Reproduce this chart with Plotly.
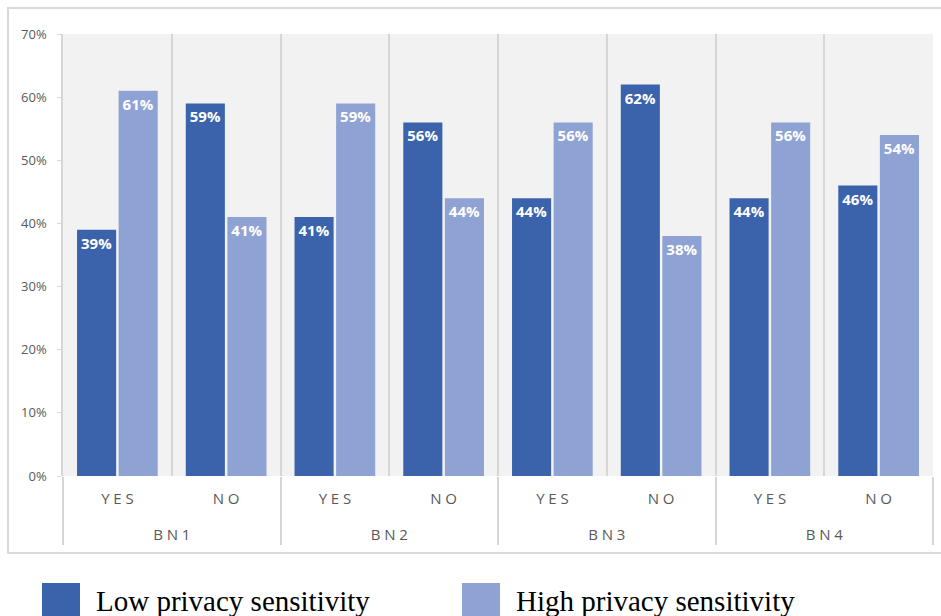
import plotly.graph_objects as go

# Survey shares by condition and answer
groups = ["BN1", "BN1", "BN2", "BN2", "BN3", "BN3", "BN4", "BN4"]
answers = ["YES", "NO", "YES", "NO", "YES", "NO", "YES", "NO"]
low_sensitivity = [39, 59, 41, 56, 44, 62, 44, 46]
high_sensitivity = [61, 41, 59, 44, 56, 38, 56, 54]
y_ticks = [0, 10, 20, 30, 40, 50, 60, 70]

series_names = ["Low privacy sensitivity", "High privacy sensitivity"]
colors = ["#3b63ac", "#8fa2d4"]


def spaced(s):
    # widen letter spacing of axis category labels
    return "\u2005".join(s)


# the trailing (blank, tall) line opens up the gap between the two label rows
x_cats = [[spaced(g) for g in groups],
          [spaced(a) + "<br><span style='font-size:34px'> </span>" for a in answers]]

fig = go.Figure()
for name, vals, col in zip(series_names, [low_sensitivity, high_sensitivity], colors):
    fig.add_trace(go.Bar(
        x=x_cats, y=vals, name=name,
        marker=dict(color=col, line=dict(color=col, width=0)),
        text=vals, texttemplate="<b>%{y:.0f}%</b>",
        textposition="inside", insidetextanchor="end",
        textfont=dict(color="white", size=15, family="Open Sans"),
        textangle=0, showlegend=False,
    ))

fig.update_layout(
    width=941, height=616,
    margin=dict(l=63, r=8, t=34, b=140),
    paper_bgcolor="white", plot_bgcolor="#f2f2f2",
    barmode="group", bargap=0.235, bargroupgap=0.06,
    font=dict(family="Open Sans", color="#595959"),
)
fig.update_xaxes(
    type="multicategory", tickson="boundaries",
    showgrid=True, gridcolor="#d6d6d6", gridwidth=1.5,
    showdividers=True, dividercolor="#d6d6d6", dividerwidth=1.5,
    showline=False, ticks="", ticklabelstandoff=12,
    tickfont=dict(size=15, color="#595959", family="Open Sans"),
)
fig.update_yaxes(
    range=[0, 70], tickvals=y_ticks, ticktext=[f"{v}%" for v in y_ticks],
    showgrid=False, zeroline=False,
    showline=True, linecolor="#d6d6d6", linewidth=1.5,
    ticks="outside", ticklen=4, tickcolor="#d6d6d6",
    ticklabelstandoff=8,
    tickfont=dict(size=13, color="#595959", family="Open Sans"),
)

# outer chart frame
fig.add_shape(type="rect", xref="paper", yref="paper",
              x0=-0.0632, x1=1.02, y0=-0.174, y1=1.0588,
              line=dict(color="#d9d9d9", width=2), fillcolor="rgba(0,0,0,0)",
              layer="below")

# legend drawn below the frame
legend_x = [42, 462]
for name, col, lx in zip(series_names, colors, legend_x):
    fig.add_shape(type="rect", xref="paper", yref="paper",
                  x0=(lx - 63) / 870, x1=(lx + 38 - 63) / 870,
                  y0=(476 - 618) / 442, y1=(476 - 583) / 442,
                  fillcolor=col, line=dict(width=0))
    fig.add_annotation(xref="paper", yref="paper",
                       x=(lx + 52 - 63) / 870, y=(476 - 601) / 442,
                       xanchor="left", yanchor="middle", showarrow=False,
                       text=name,
                       font=dict(family="Liberation Serif", size=29, color="black"))

fig.write_html("out.html")
